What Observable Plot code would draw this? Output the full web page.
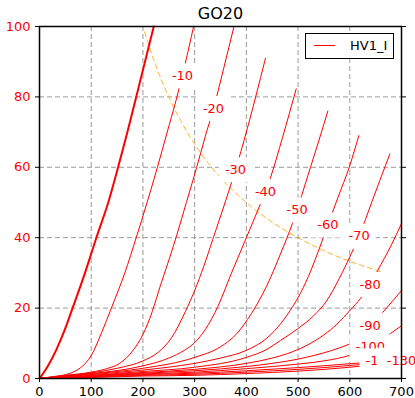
<!DOCTYPE html>
<html><head><meta charset="utf-8">
<script src="https://cdn.jsdelivr.net/npm/d3@7"></script>
<script src="https://cdn.jsdelivr.net/npm/@observablehq/plot@0.6"></script>
<style>
body{margin:0;background:#fff;}
#wrap{position:relative;width:415px;height:398px;font-family:"DejaVu Sans",sans-serif;}
#legend{position:absolute;left:305px;top:33px;width:87px;height:24px;border:1px solid #000;background:#fff;}
#legend .ln{position:absolute;left:8px;top:11px;width:21px;height:0;border-top:1px solid red;}
#legend .tx{position:absolute;left:44px;top:5px;font:13px/13px "DejaVu Sans",sans-serif;color:#000;white-space:nowrap;}
</style></head><body>
<div id="wrap"></div>
<script>
// ---- data ----
const title = "GO20";
const legendLabel = "HV1_I";
const xTicks = [0,100,200,300,400,500,600,700];
const yTicks = [0,20,40,60,80,100];

const v0   = [[0,0],[16,3.5],[32,8],[48,13.5],[64,20],[88,30],[110,40],[134,50.5],[152,60],[170,70],[187,80],[204,90],[221,100]];
const v10  = [[0,0],[25,0.5],[50,1.1],[75,2.6],[90,4.5],[100,6.5],[120,13],[139,20],[165,30],[187,40],[208,50],[228,60],[246,69.5],[264,79],[281,89],[298,100]];
const v20  = [[0,0],[50,0.9],[100,1.8],[130,2.8],[155,4.3],[180,7.8],[200,12.5],[218,19],[234,26.5],[251,34],[266,41],[284,50],[304,60],[320,68.5],[336.5,76.7],[356,88],[376,100]];
const v30  = [[0,0],[50,0.8],[100,1.6],[150,2.9],[200,5],[230,7.5],[255,11.5],[282,19],[300,25],[318,32],[335,39.5],[360,50.5],[379,59.3],[400,70],[418,80],[437,91]];
const v40  = [[0,0],[50,0.7],[100,1.4],[200,3.6],[250,5.8],[280,8],[300,10.2],[321,14],[345,20.5],[370,29.5],[400,40],[427,49.5],[437,53.1],[447,57.2],[470,68.5],[496.4,82.3]];
const v50  = [[0,0],[50,0.65],[100,1.3],[200,2.9],[300,6],[350,9],[380,12.5],[410,18.5],[440,26.5],[466,35.4],[489,44],[498.3,47.9],[507,52],[524,60],[540,67.5],[557.6,76]];
const v60  = [[0,0],[50,0.55],[100,1.1],[200,2.4],[300,4.3],[350,5.8],[400,8],[440,11.5],[466,15.5],[480,18.3],[500,23],[520,29],[535,34.5],[557.6,43.6],[576,51],[600,60.5],[617.5,69]];
const v70  = [[0,0],[50,0.45],[100,0.9],[200,2],[300,3.2],[400,6],[440,8.3],[466,10.8],[500,14.2],[530,17.8],[555,22],[580,28.5],[603,35.5],[618,40.4],[643,50.3],[660,57],[677.5,63.8]];
const v80  = [[0,0],[50,0.4],[100,0.8],[200,1.7],[300,2.6],[400,4.3],[450,5.8],[480,7.1],[514,9.2],[550,12.4],[575,15.4],[600,19.3],[621,22.8],[639.5,26.7],[654,30.7],[680,37.8],[700,44]];
const v90  = [[0,0],[50,0.35],[100,0.7],[200,1.5],[300,2.2],[400,3.4],[450,4.3],[500,5.5],[550,7.3],[580,8.7],[605,10.3],[620,12.1],[639.5,15.1],[663,18.7],[700,25]];
const v100 = [[0,0],[50,0.3],[100,0.6],[200,1.3],[300,1.8],[400,2.8],[500,4.1],[550,5],[600,6.6],[639.5,9],[660,10.6],[679,12.8],[700,15]];
const v110 = [[0,0],[50,0.25],[100,0.5],[200,1.1],[300,1.5],[400,2.2],[500,3.1],[600,4.2],[659,5.0],[700,6.3]];
const v120 = [[0,0],[50,0.2],[100,0.4],[200,0.9],[300,1.2],[400,1.8],[500,2.6],[600,3.7],[650,4.4],[692,5.2],[700,5.4]];
const v130 = [[0,0],[50,0.15],[100,0.3],[200,0.7],[300,0.9],[400,1.4],[500,2.1],[600,3.2],[650,4],[700,5.1]];

const gridVoltages = [0,-10,-20,-30,-40,-50,-60,-70,-80,-90,-100,-110,-120,-130];
const curves = [v0,v10,v20,v30,v40,v50,v60,v70,v80,v90,v100,v110,v120,v130];

// max plate dissipation hyperbola (orange dashed)
const pmax = [[203,98.5],[225,88.9],[250,80],[275,72.7],[300,66.6],[350,57],[400,50],[450,44.4],[500,40],[550,36.3],[600,33.3],[650,30.8],[669,29.8]];

// inline labels
const labelText = ["-10","-20","-30","-40","-50","-60","-70","-80","-90","-100","-110","-120","-130"];
const labelX = [276.5,336.5,379,437,498.3,557.6,618,639.5,639.5,639.5,659,692,700];
const labelY = [86,76.7,59.3,53.1,47.9,43.6,40.4,26.7,15.1,9.0,5.0,5.2,5.1];

// ---- build ----
const rows = curves.flatMap((pts, i) => pts.map(([x, y]) => ({vg: gridVoltages[i], x, y})));
const thick = rows.filter(d => d.vg === 0);
const thin = rows.filter(d => d.vg !== 0);
const hyper = pmax.map(([x, y]) => ({x, y}));

const ctx = document.createElement("canvas").getContext("2d");
ctx.font = '13px "DejaVu Sans"';
const labelMarks = labelText.flatMap((t, i) => {
  const w = ctx.measureText(t).width + 12, h = 25;
  const sym = {draw(c) { c.rect(-w / 2, -h / 2, w, h); }};
  const d = [{x: labelX[i], y: labelY[i], t}];
  return [
    Plot.dot(d, {x: "x", y: "y", symbol: sym, r: 10, fill: "white", stroke: "none"}),
    Plot.text(d, {x: "x", y: "y", text: "t", fill: "red", fontSize: 13, lineAnchor: "middle"})
  ];
});

const red = "red";
const chart = Plot.plot({
  width: 415,
  height: 398,
  marginLeft: 39,
  marginRight: 14,
  marginTop: 26,
  marginBottom: 20,
  style: {fontFamily: '"DejaVu Sans", sans-serif', fontSize: "13px", background: "white", overflow: "visible"},
  x: {domain: [0, 700], axis: null},
  y: {domain: [0, 100], axis: null},
  marks: [
    Plot.gridX(xTicks.slice(1, -1), {stroke: "#808080", strokeOpacity: 1, strokeWidth: 0.8, strokeDasharray: "5,3"}),
    Plot.gridY(yTicks.slice(1, -1), {stroke: "#808080", strokeOpacity: 1, strokeWidth: 0.8, strokeDasharray: "5,3"}),
    Plot.line(hyper, {x: "x", y: "y", stroke: "#ffa500", strokeWidth: 1, strokeOpacity: 0.85, strokeDasharray: "5,3.5", curve: "monotone-x"}),
    Plot.line(thin, {x: "x", y: "y", z: "vg", stroke: red, strokeWidth: 1, curve: "monotone-x"}),
    Plot.line(thick, {x: "x", y: "y", stroke: red, strokeWidth: 2, curve: "monotone-x"}),
    ...labelMarks,
    Plot.axisX(xTicks, {tickSize: 4, tickPadding: 4, fontSize: 13, fill: "black", stroke: "black", label: null}),
    Plot.axisY(yTicks, {anchor: "left", tickSize: 4, tickPadding: 5, fontSize: 13, fill: red, stroke: "black", label: null}),
    Plot.axisY(yTicks, {anchor: "right", tickSize: 4, tickFormat: () => "", stroke: "black", label: null}),
    Plot.frame({stroke: "black", strokeWidth: 1.5}),
    Plot.text([title], {frameAnchor: "top", dy: -13, text: d => d, fontSize: 16, fill: "black", lineAnchor: "middle"})
  ]
});
const wrap = document.getElementById("wrap");
wrap.appendChild(chart);
const lg = document.createElement("div");
lg.id = "legend";
lg.innerHTML = '<div class="ln"></div><span class="tx"></span>';
lg.querySelector(".tx").textContent = legendLabel;
wrap.appendChild(lg);
</script>
</body></html>
